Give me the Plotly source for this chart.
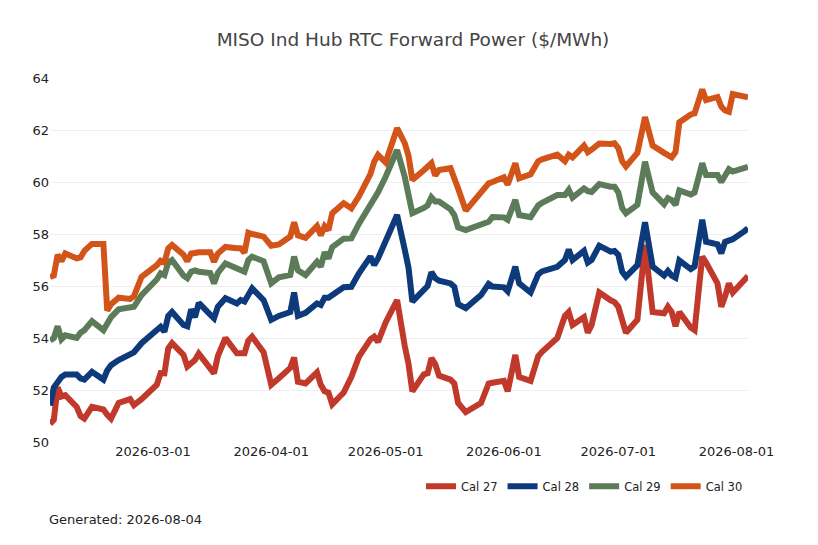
import plotly.graph_objects as go

# trade dates (vertices)
dates = [
    "2026-02-02", "2026-02-03", "2026-02-04", "2026-02-05", "2026-02-06",
    "2026-02-09", "2026-02-10", "2026-02-11", "2026-02-13", "2026-02-16",
    "2026-02-17", "2026-02-18", "2026-02-20", "2026-02-23", "2026-02-24",
    "2026-02-26", "2026-03-02", "2026-03-03", "2026-03-04", "2026-03-05",
    "2026-03-06", "2026-03-09", "2026-03-10", "2026-03-11", "2026-03-12",
    "2026-03-13", "2026-03-16", "2026-03-17", "2026-03-18", "2026-03-20",
    "2026-03-23", "2026-03-24", "2026-03-25", "2026-03-26", "2026-03-27",
    "2026-03-30", "2026-04-01", "2026-04-03", "2026-04-06", "2026-04-07",
    "2026-04-08", "2026-04-10", "2026-04-13", "2026-04-14", "2026-04-15",
    "2026-04-16", "2026-04-17", "2026-04-20", "2026-04-22", "2026-04-24",
    "2026-04-27", "2026-04-28", "2026-04-29", "2026-05-01", "2026-05-04",
    "2026-05-06", "2026-05-07", "2026-05-08", "2026-05-11", "2026-05-12",
    "2026-05-13", "2026-05-14", "2026-05-15", "2026-05-18", "2026-05-19",
    "2026-05-20", "2026-05-22", "2026-05-26", "2026-05-28", "2026-05-29",
    "2026-06-01", "2026-06-02", "2026-06-04", "2026-06-05", "2026-06-08",
    "2026-06-10", "2026-06-11", "2026-06-15", "2026-06-17", "2026-06-18",
    "2026-06-19", "2026-06-22", "2026-06-23", "2026-06-24", "2026-06-26",
    "2026-06-29", "2026-06-30", "2026-07-01", "2026-07-02", "2026-07-03",
    "2026-07-06", "2026-07-08", "2026-07-10", "2026-07-13", "2026-07-14",
    "2026-07-15", "2026-07-16", "2026-07-17", "2026-07-20", "2026-07-21",
    "2026-07-23", "2026-07-24", "2026-07-27", "2026-07-28", "2026-07-29",
    "2026-07-30", "2026-07-31", "2026-08-03", "2026-08-04",
]

cal27 = [
    50.70, 50.85, 52.10, 51.75, 51.80, 51.35, 51.00, 50.90, 51.35, 51.25,
    51.05, 50.90, 51.50, 51.65, 51.42, 51.65, 52.20, 52.65, 52.64, 53.60,
    53.80, 53.35, 52.90, 53.00, 53.15, 53.40, 52.80, 52.64, 53.30, 54.00,
    53.41, 53.41, 53.41, 53.90, 54.05, 53.45, 52.20, 52.45, 52.85, 53.25,
    52.32, 52.25, 52.68, 52.20, 51.95, 51.90, 51.45, 51.90, 52.50, 53.28,
    53.95, 54.05, 53.85, 54.60, 55.46, 53.70, 53.00, 51.95, 52.60, 52.64,
    53.22, 53.00, 52.55, 52.40, 52.25, 51.50, 51.15, 51.50, 52.25, 52.28,
    52.35, 51.95, 53.35, 52.50, 52.35, 53.30, 53.47, 54.00, 54.85, 55.00,
    54.50, 54.80, 54.20, 54.50, 55.75, 55.45, 55.38, 55.20, 54.70, 54.20,
    54.70, 57.58, 55.00, 54.95, 55.20, 55.00, 54.45, 55.00, 54.40, 54.30,
    57.13, 56.90, 56.10, 55.20, 55.60, 56.10, 55.75, 56.20, 56.38,
]

cal28 = [
    51.40, 52.10, 52.30, 52.50, 52.60, 52.60, 52.45, 52.40, 52.70, 52.40,
    52.75, 52.95, 53.15, 53.35, 53.45, 53.80, 54.30, 54.43, 54.24, 54.85,
    55.00, 54.50, 54.45, 55.10, 54.80, 55.35, 54.90, 54.76, 55.20, 55.53,
    55.33, 55.46, 55.40, 55.70, 55.91, 55.46, 54.70, 54.85, 55.00, 55.75,
    54.85, 54.97, 55.33, 55.27, 55.55, 55.55, 55.65, 55.95, 55.97, 56.49,
    57.13, 56.81, 57.06, 57.70, 58.73, 57.40, 56.70, 55.40, 55.80, 56.00,
    56.53, 56.30, 56.20, 56.10, 55.97, 55.30, 55.15, 55.65, 56.08, 55.98,
    55.95, 55.80, 56.74, 56.10, 55.75, 56.45, 56.56, 56.74, 57.00, 57.40,
    57.00, 57.35, 56.90, 57.00, 57.55, 57.32, 57.35, 57.20, 56.55, 56.36,
    56.80, 58.45, 56.75, 56.40, 56.58, 56.40, 56.32, 56.98, 56.65, 56.75,
    58.55, 57.70, 57.60, 57.26, 57.70, 57.77, 57.80, 58.10, 58.22,
]

cal29 = [
    53.90, 54.00, 54.45, 53.95, 54.10, 54.00, 54.20, 54.30, 54.65, 54.30,
    54.55, 54.80, 55.10, 55.20, 55.20, 55.65, 56.25, 56.49, 56.42, 56.90,
    57.00, 56.40, 56.30, 56.55, 56.60, 56.55, 56.50, 56.10, 56.50, 56.87,
    56.70, 56.60, 56.55, 57.00, 57.13, 56.95, 56.10, 56.33, 56.42, 57.13,
    56.60, 56.42, 56.93, 56.74, 57.30, 57.06, 57.50, 57.82, 57.83, 58.40,
    59.10, 59.35, 59.60, 60.20, 61.23, 60.20, 59.60, 58.80, 59.00, 59.10,
    59.41, 59.25, 59.25, 58.95, 58.73, 58.25, 58.15, 58.37, 58.47, 58.65,
    58.64, 58.55, 59.31, 58.73, 58.65, 59.10, 59.20, 59.50, 59.50, 59.70,
    59.40, 59.75, 59.65, 59.62, 59.92, 59.82, 59.82, 59.60, 59.00, 58.80,
    59.12, 60.78, 59.60, 59.15, 59.38, 59.30, 59.12, 59.68, 59.52, 59.60,
    60.72, 60.27, 60.27, 60.00, 60.30, 60.49, 60.40, 60.55, 60.58,
]

cal30 = [
    56.35, 56.40, 57.20, 56.95, 57.25, 57.06, 57.10, 57.35, 57.62, 57.62,
    55.05, 55.30, 55.55, 55.50, 55.60, 56.35, 56.80, 56.97, 56.90, 57.45,
    57.58, 57.20, 56.95, 57.25, 57.27, 57.30, 57.30, 56.93, 57.25, 57.50,
    57.45, 57.45, 57.28, 58.05, 58.00, 57.90, 57.55, 57.60, 57.90, 58.45,
    57.95, 57.85, 58.30, 57.95, 58.30, 58.15, 58.80, 59.18, 58.99, 59.45,
    60.30, 60.78, 61.04, 60.75, 62.07, 61.50, 61.00, 60.08, 60.45, 60.60,
    60.72, 60.25, 60.46, 60.53, 60.20, 59.75, 58.90, 59.60, 59.95, 60.00,
    60.18, 59.90, 60.72, 60.14, 60.30, 60.80, 60.87, 61.05, 60.80, 61.05,
    60.95, 61.40, 61.15, 61.25, 61.48, 61.46, 61.49, 61.30, 60.80, 60.60,
    61.12, 62.50, 61.40, 61.12, 61.00, 60.95, 61.15, 62.30, 62.60, 62.64,
    63.56, 63.15, 63.27, 62.90, 62.75, 62.70, 63.38, 63.28, 63.26,
]

series = [
    ("Cal 27", cal27, "#c0392b"),
    ("Cal 28", cal28, "#0d3a7a"),
    ("Cal 29", cal29, "#5b7b59"),
    ("Cal 30", cal30, "#d35418"),
]

y_ticks = [50, 52, 54, 56, 58, 60, 62, 64]
x_ticks = ["2026-03-01", "2026-04-01", "2026-05-01", "2026-06-01", "2026-07-01", "2026-08-01"]

fig = go.Figure()
for name, vals, color in series:
    fig.add_trace(go.Scatter(
        x=dates, y=vals, name=name, mode="lines",
        line=dict(color=color, width=6),
    ))

# page has an 8px body margin, so the margins are pulled in by that much
fig.update_layout(
    width=818, height=545,
    template="plotly_white",
    font=dict(family="DejaVu Sans", size=13, color="#222"),
    title=dict(text="MISO Ind Hub RTC Forward Power ($/MWh)",
               xref="container", x=405 / 818, xanchor="center",
               yref="container", y=1 - 32 / 545, yanchor="middle",
               font=dict(size=18.5, color="#444")),
    margin=dict(l=42, r=78, t=70, b=111),
    plot_bgcolor="white", paper_bgcolor="white",
    legend=dict(orientation="h", x=1, xanchor="right", y=-0.082, yanchor="top",
                font=dict(size=11.5, color="#222")),
    showlegend=True,
)
fig.update_xaxes(showgrid=False, tickvals=x_ticks, ticktext=x_ticks,
                 showline=False, zeroline=False)
fig.update_yaxes(range=[50, 64], tickvals=y_ticks, gridcolor="#efefef",
                 showline=False, zeroline=False)

fig.add_annotation(text="Generated: 2026-08-04", xref="paper", yref="paper",
                   x=-0.004, y=-0.214, xanchor="left", yanchor="middle",
                   showarrow=False, font=dict(size=13, color="#222"))

fig.write_html("out.html")
